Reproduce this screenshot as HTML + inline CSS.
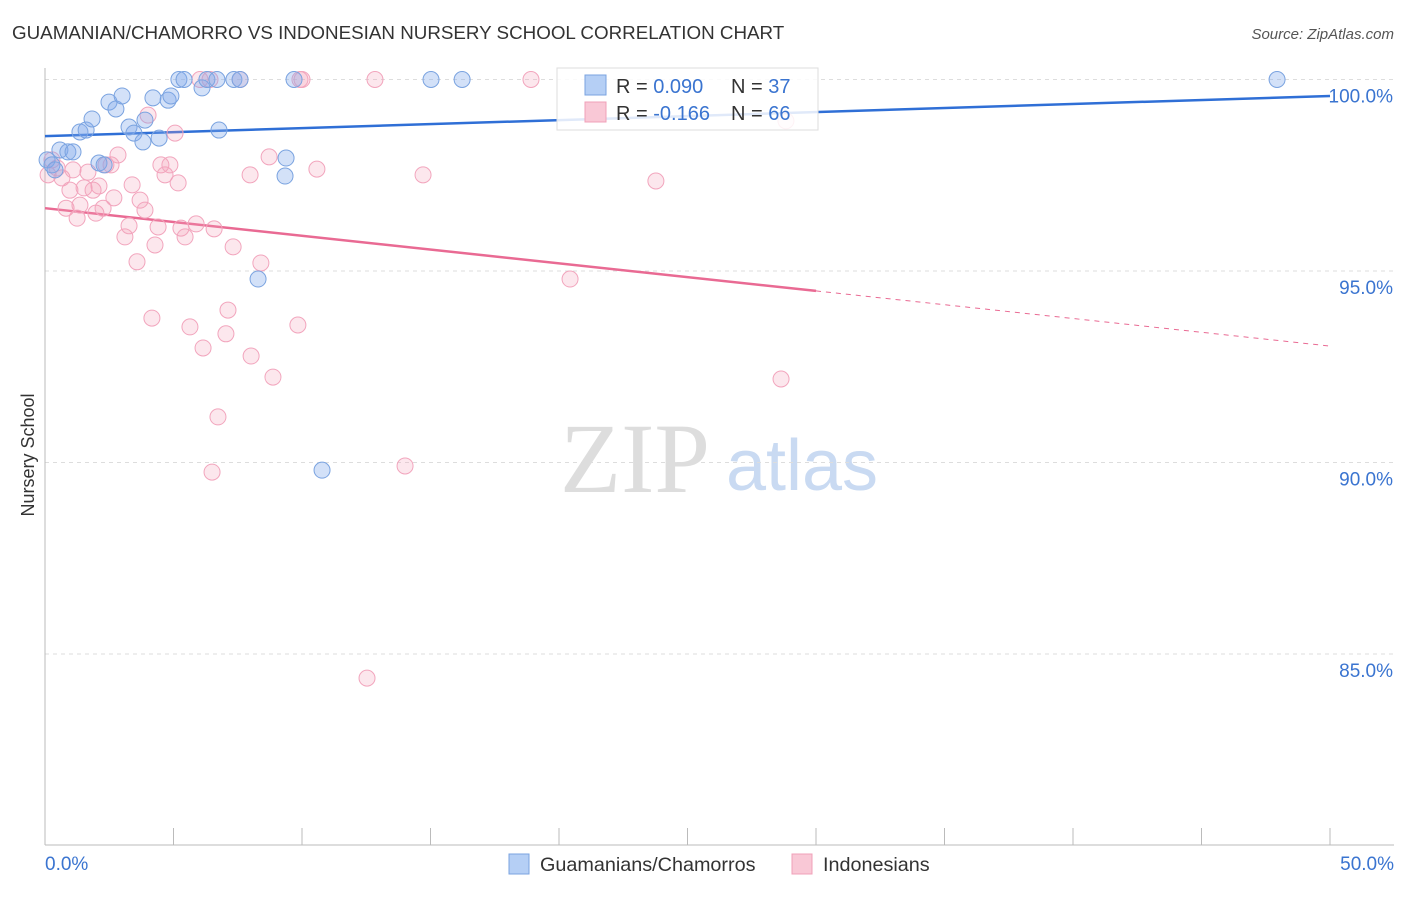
<!DOCTYPE html>
<html><head><meta charset="utf-8"><style>
body{margin:0;background:#fff;font-family:"Liberation Sans",sans-serif;}
svg text{font-family:"Liberation Sans",sans-serif;}
svg text.serif{font-family:"Liberation Serif",serif;}
</style></head><body>
<svg id="chart" width="1406" height="892">
<text x="12" y="39" font-size="18.8" fill="#333">GUAMANIAN/CHAMORRO VS INDONESIAN NURSERY SCHOOL CORRELATION CHART</text>
<text x="1394" y="39" font-size="15" fill="#555" font-style="italic" text-anchor="end">Source: ZipAtlas.com</text>
<text class="serif" x="635" y="492" font-size="100" fill="#ddd" text-anchor="middle">ZIP</text>
<text x="802" y="490" font-size="72" fill="#c9daf2" text-anchor="middle">atlas</text>
<text transform="translate(34,455) rotate(-90)" font-size="18" fill="#333" text-anchor="middle">Nursery School</text>
<g id="grid"></g><g id="axes"></g><g id="lines"></g><g id="pts"></g>
<g>
<rect x="557" y="68" width="261" height="62" fill="#fff" fill-opacity="0.85" stroke="#ddd"/>
<rect x="585" y="75" width="21" height="20" fill="#b5cff5" stroke="#7aa3e0"/>
<rect x="585" y="102" width="21" height="20" fill="#f9c8d6" stroke="#f0a0b8"/>
<text x="616" y="93" font-size="20" fill="#333">R = <tspan fill="#3a74d0">0.090</tspan><tspan x="731">N = </tspan><tspan fill="#3a74d0">37</tspan></text>
<text x="616" y="120" font-size="20" fill="#333">R = <tspan fill="#3a74d0">-0.166</tspan><tspan x="731">N = </tspan><tspan fill="#3a74d0">66</tspan></text>
</g>
<g>
<rect x="509" y="854" width="20" height="20" fill="#b5cff5" stroke="#7aa3e0"/>
<text x="540" y="871" font-size="19.8" fill="#333">Guamanians/Chamorros</text>
<rect x="792" y="854" width="20" height="20" fill="#f9c8d6" stroke="#f0a0b8"/>
<text x="823" y="871" font-size="19.8" fill="#333">Indonesians</text>
</g>
</svg>
<script>
const blueX=[0.08,0.27,0.39,0.58,0.89,1.09,1.36,1.60,1.83,2.10,2.30,2.49,2.76,3.0,3.27,3.46,3.81,3.89,4.20,4.44,4.79,4.90,5.21,5.41,6.11,6.30,6.69,6.77,7.35,7.59,8.29,9.34,9.38,9.69,10.78,15.02,16.23,47.94];
const blueY=[97.90,97.77,97.64,98.16,98.11,98.11,98.63,98.68,98.97,97.82,97.77,99.41,99.23,99.57,98.76,98.60,98.37,98.94,99.52,98.47,99.46,99.57,100,100,99.78,100,100,98.68,100,100,94.79,97.48,97.95,100,89.80,100,100,100];
const pinkX=[0.12,0.27,0.47,0.66,0.82,0.97,1.09,1.25,1.36,1.52,1.67,1.87,1.98,2.10,2.26,2.37,2.57,2.68,2.84,3.11,3.27,3.39,3.58,3.70,3.89,4.01,4.16,4.28,4.40,4.51,4.67,4.86,5.06,5.18,5.29,5.45,5.64,5.88,6.15,6.42,6.50,6.58,6.73,7.04,7.12,7.32,7.59,7.98,8.02,8.40,8.72,8.87,9.84,10.0,10.58,12.53,12.84,14.01,14.71,18.91,20.43,23.77,28.64,28.83,6.03,9.92];
const pinkY=[97.51,97.90,97.69,97.43,96.64,97.11,97.64,96.38,96.72,97.17,97.58,97.11,96.51,97.22,96.64,97.77,97.77,96.91,98.03,95.89,96.18,97.25,95.24,96.85,96.59,99.07,93.77,95.68,96.15,97.77,97.51,97.77,98.60,97.30,96.12,95.89,93.54,96.23,92.99,100,89.75,96.10,91.19,93.36,93.98,95.63,100,97.51,92.78,95.21,97.98,92.23,93.59,100,97.66,84.37,100,89.91,97.51,100,94.79,97.35,92.18,98.92,100,100];
const yTicks=[100,95,90,85];
const xTickLabels=["0.0%","50.0%"];
const blueTrend=[98.52,99.57];
const pinkTrend=[96.64,93.04];
const NS="http://www.w3.org/2000/svg";
const sx=v=>45+v/50*1285;
const sy=v=>79.5+(100-v)*38.3;
function mk(tag,attrs,parent){const e=document.createElementNS(NS,tag);for(const k in attrs)e.setAttribute(k,attrs[k]);document.getElementById(parent).appendChild(e);return e;}
yTicks.forEach(t=>{
 const l=mk('line',{x1:45,x2:1394,y1:sy(t),y2:sy(t),stroke:'#ddd','stroke-dasharray':'4,4'},'grid');
 
 
 const tx=mk('text',{x:1393,y:sy(t)+23,'font-size':19,fill:'#3a74d0','text-anchor':'end'},'grid');
 tx.textContent=t.toFixed(1)+'%';
 
 
});
const ax=mk('line',{x1:45,x2:45,y1:68,y2:845,stroke:'#bbb'},'axes');


const bx=mk('line',{x1:45,x2:1394,y1:845,y2:845,stroke:'#bbb'},'axes');


for(let i=0;i<=10;i++){
 const t=mk('line',{x1:sx(i*5),x2:sx(i*5),y1:828,y2:845,stroke:'#bbb'},'axes');
 
 
}
[[0,'start',45],[50,'end',1394]].forEach((d,i)=>{
 const tx=mk('text',{x:d[2],y:870,'font-size':19,fill:'#3a74d0','text-anchor':d[1]},'axes');
 tx.textContent=xTickLabels[i];
 
 
});
pinkX.forEach((x,i)=>{
 const c=mk('circle',{cx:sx(x),cy:sy(pinkY[i]),r:8,fill:'rgba(244,160,185,0.25)',stroke:'#f2a5bd','stroke-width':1},'pts');
 
 
});
blueX.forEach((x,i)=>{
 const c=mk('circle',{cx:sx(x),cy:sy(blueY[i]),r:8,fill:'rgba(130,170,235,0.35)',stroke:'#7aa3e0','stroke-width':1},'pts');
 
 
});
const bl=mk('line',{x1:sx(0),y1:sy(blueTrend[0]),x2:sx(50),y2:sy(blueTrend[1]),stroke:'#2f6fd6','stroke-width':2.5},'lines');


const pm=pinkTrend[0]+(pinkTrend[1]-pinkTrend[0])*0.6;
const pl=mk('line',{x1:sx(0),y1:sy(pinkTrend[0]),x2:sx(30),y2:sy(pm),stroke:'#e96a93','stroke-width':2.5},'lines');


const pd=mk('line',{x1:sx(30),y1:sy(pm),x2:sx(50),y2:sy(pinkTrend[1]),stroke:'#e96a93','stroke-width':1,'stroke-dasharray':'5,5'},'lines');


</script>
</body></html>
